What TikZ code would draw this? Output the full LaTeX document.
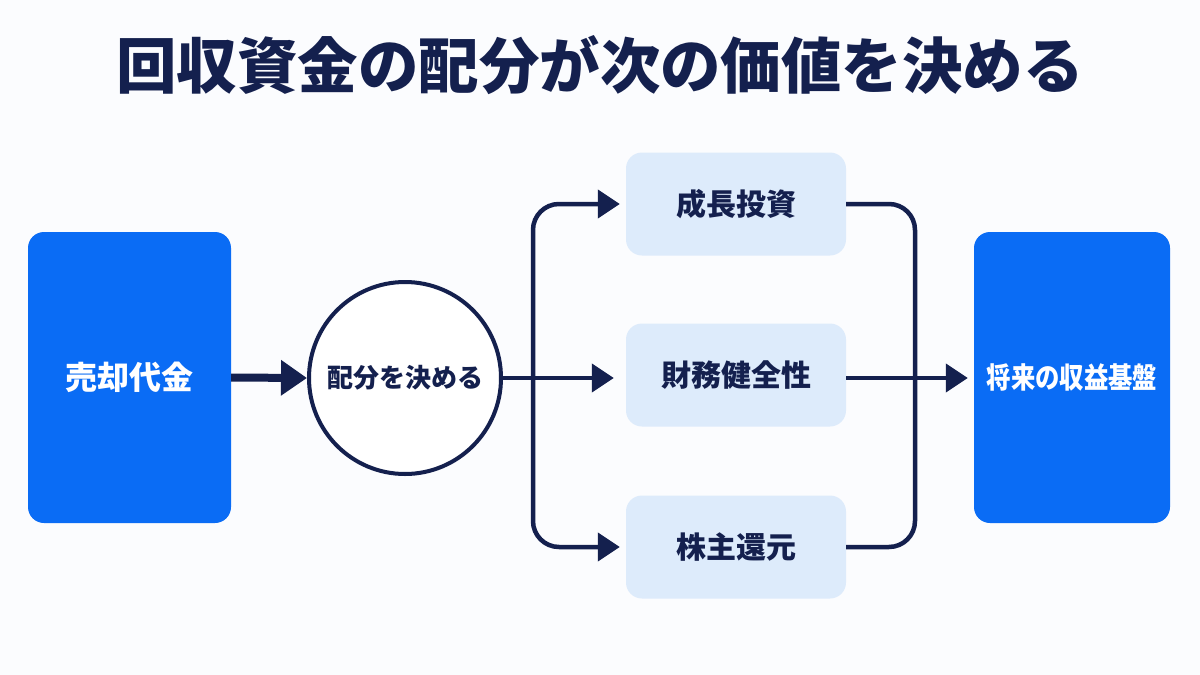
\documentclass[tikz,border=0pt]{standalone}
\usepackage{fontspec}
\newfontfamily\cjk{Noto Sans CJK JP}[BoldFont={Noto Sans CJK JP Black}]
\usetikzlibrary{arrows.meta}
\definecolor{navy}{HTML}{14204E}
\definecolor{bblue}{HTML}{0A6CF5}
\definecolor{lblue}{HTML}{DDEBFB}
\definecolor{bg}{HTML}{FBFCFE}
\tikzset{
  bigbox/.style={rectangle, rounded corners=16pt, fill=bblue, minimum width=203pt, minimum height=291pt, inner sep=0pt, text=white, font=\cjk\bfseries\fontsize{32}{36}\selectfont},
  optbox/.style={rectangle, rounded corners=16pt, fill=lblue, minimum width=220pt, minimum height=103pt, inner sep=0pt, text=navy, font=\cjk\bfseries\fontsize{30}{34}\selectfont},
  hub/.style={circle, draw=navy, line width=4pt, minimum size=192pt, inner sep=0pt, text=navy, fill=white, font=\cjk\bfseries\fontsize{26}{30}\selectfont},
  conn/.style={draw=navy, line width=4.5pt, rounded corners=26pt},
  tip/.style={-{Triangle[length=22pt,width=28pt]}},
}
\begin{document}
\begin{tikzpicture}[x=1pt,y=-1pt]
\fill[bg] (0,0) rectangle (1200,675);
\useasboundingbox (0,0) rectangle (1200,675);
\node[text=navy, font=\cjk\bfseries\fontsize{60.5}{66}\selectfont] (title) at (600,65) {回収資金の配分が次の価値を決める};
\node[bigbox] (src) at (129.5,377.5) {売却代金};
\node[hub] (hub) at (405,378) {配分を決める};
\node[optbox] (g) at (736,204) {成長投資};
\node[optbox] (f) at (736,375) {財務健全性};
\node[optbox] (s) at (736,547) {株主還元};
\node[bigbox, minimum width=196pt, font=\cjk\bfseries\fontsize{29}{33}\selectfont] (dst) at (1072,377.5) {\scalebox{0.84}[1]{将来の収益基盤}};
\coordinate (jl) at (533,378);
\coordinate (jr) at (915,378);
% left arrow
\draw[draw=navy, line width=8pt, -{Triangle[length=26pt,width=34pt]}] (src.east) -- (hub.west);
% branches
\draw[conn, tip, shorten >=6pt] (hub.east) -- ([xshift=-6pt]f.west |- jl);
\draw[conn, tip, shorten >=6pt] (jl) |- (g.west);
\draw[conn, tip, shorten >=6pt] (jl) |- (s.west);
% merges
\draw[conn] (g.east) -| (jr);
\draw[conn] (s.east) -| (jr);
\draw[conn, tip, shorten >=6pt] (f.east |- jr) -- (dst.west |- jr);
\end{tikzpicture}
\end{document}
